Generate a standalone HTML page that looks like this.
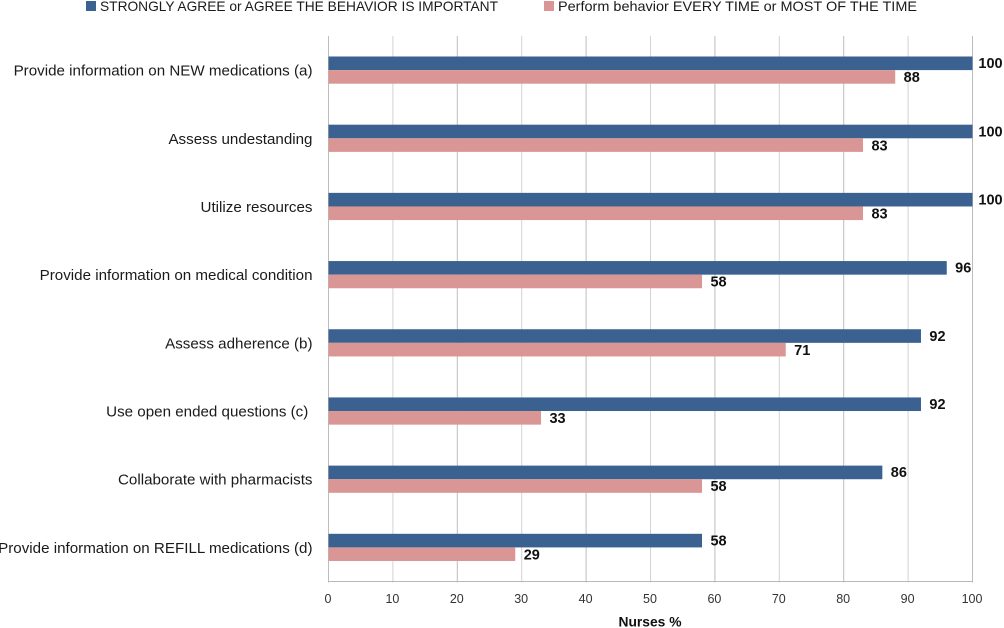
<!DOCTYPE html>
<html lang="en">
<head>
<meta charset="utf-8">
<title>Nurses % chart</title>
<style>
html,body{margin:0;padding:0;background:#fff;}
svg{display:block;font-family:"Liberation Sans",sans-serif;}
svg text{white-space:pre;}
</style>
</head>
<body>
<svg id="chart" xmlns="http://www.w3.org/2000/svg" width="1004" height="628" viewBox="0 0 1004 628">
  <g>
    <rect x="86" y="1" width="10" height="10" fill="#3a6190"/>
    <text x="100" y="11" font-size="14" fill="#1a1a1a" textLength="398" lengthAdjust="spacingAndGlyphs">STRONGLY AGREE or AGREE THE BEHAVIOR IS IMPORTANT</text>
    <rect x="544" y="1" width="10" height="10" fill="#d99694"/>
    <text x="558" y="11" font-size="14" fill="#1a1a1a" textLength="359" lengthAdjust="spacingAndGlyphs">Perform behavior EVERY TIME or MOST OF THE TIME</text>
  </g>
  <g id="grid"></g>
  <g id="bars"></g>
  <g id="labels"></g>
  <text x="650" y="626.5" text-anchor="middle" font-size="14" font-weight="bold" fill="#111" textLength="63" lengthAdjust="spacingAndGlyphs">Nurses %</text>
</svg>
<script>
const categories = [
  "Provide information on NEW medications (a)",
  "Assess undestanding",
  "Utilize resources",
  "Provide information on medical condition",
  "Assess adherence (b)",
  "Use open ended questions (c) ",
  "Collaborate with pharmacists",
  "Provide information on REFILL medications (d)"
];
const importantValues = [100, 100, 100, 96, 92, 92, 86, 58];
const performValues = [88, 83, 83, 58, 71, 33, 58, 29];
const xTicks = [0, 10, 20, 30, 40, 50, 60, 70, 80, 90, 100];

const NS = "http://www.w3.org/2000/svg";
const plotLeft = 328.5, plotRight = 972.5, plotTop = 36, plotBottom = 581.5;
const xMax = xTicks[xTicks.length - 1];
const barHeight = 13.6;
const bandHeight = (plotBottom - plotTop) / categories.length;
const catTextWidthScale = 1.01;

function xScale(v) { return plotLeft + (v / xMax) * (plotRight - plotLeft); }
function yCenter(i) { return plotTop + bandHeight * (i + 0.5); }
function mk(tag, attrs, parent, text) {
  const el = document.createElementNS(NS, tag);
  for (const k in attrs) el.setAttribute(k, attrs[k]);
  if (text !== undefined) el.textContent = text;
  parent.appendChild(el);
  return el;
}

const grid = document.getElementById("grid");
const bars = document.getElementById("bars");
const labels = document.getElementById("labels");

xTicks.forEach(function (t) {
  const x = xScale(t);
  const line = mk("line", { x1: x, x2: x, y1: plotTop, y2: plotBottom + 1, stroke: t % 20 === 0 ? "#bdbdbd" : "#d2d2d2", "stroke-width": 1 }, grid);
  
  
  const lab = mk("text", { x: x - 0.5, y: 603, "text-anchor": "middle", "font-size": 12.5, fill: "#333" }, labels, String(t));
  
  
});
const axis = mk("line", { x1: plotLeft, x2: plotRight, y1: plotBottom, y2: plotBottom, stroke: "#b8b8b8", "stroke-width": 1 }, grid);



categories.forEach(function (c, i) {
  const cy = yCenter(i);
  const catLabel = mk("text", { x: 312.5, y: cy + 5.5, "text-anchor": "end", "font-size": 15, fill: "#1a1a1a" }, labels, c);
  
  
  const natural = catLabel.getComputedTextLength();
  catLabel.setAttribute("textLength", natural * catTextWidthScale);
  catLabel.setAttribute("lengthAdjust", "spacingAndGlyphs");

  const a = importantValues[i], b = performValues[i];
  const barA = mk("rect", { x: plotLeft, y: cy - barHeight, width: xScale(a) - plotLeft, height: barHeight, fill: "#3a6190" }, bars);
  
  
  const barB = mk("rect", { x: plotLeft, y: cy, width: xScale(b) - plotLeft, height: barHeight, fill: "#d99694" }, bars);
  
  

  const valA = mk("text", { x: xScale(a) + (a === xMax ? 18 : 16.5), y: cy - 2, "text-anchor": "middle", "font-size": 14.5, "font-weight": "bold", fill: "#111" }, labels, String(a));
  
  
  const valB = mk("text", { x: xScale(b) + 16.5, y: cy + 12, "text-anchor": "middle", "font-size": 14.5, "font-weight": "bold", fill: "#111" }, labels, String(b));
  
  
});
</script>
</body>
</html>
